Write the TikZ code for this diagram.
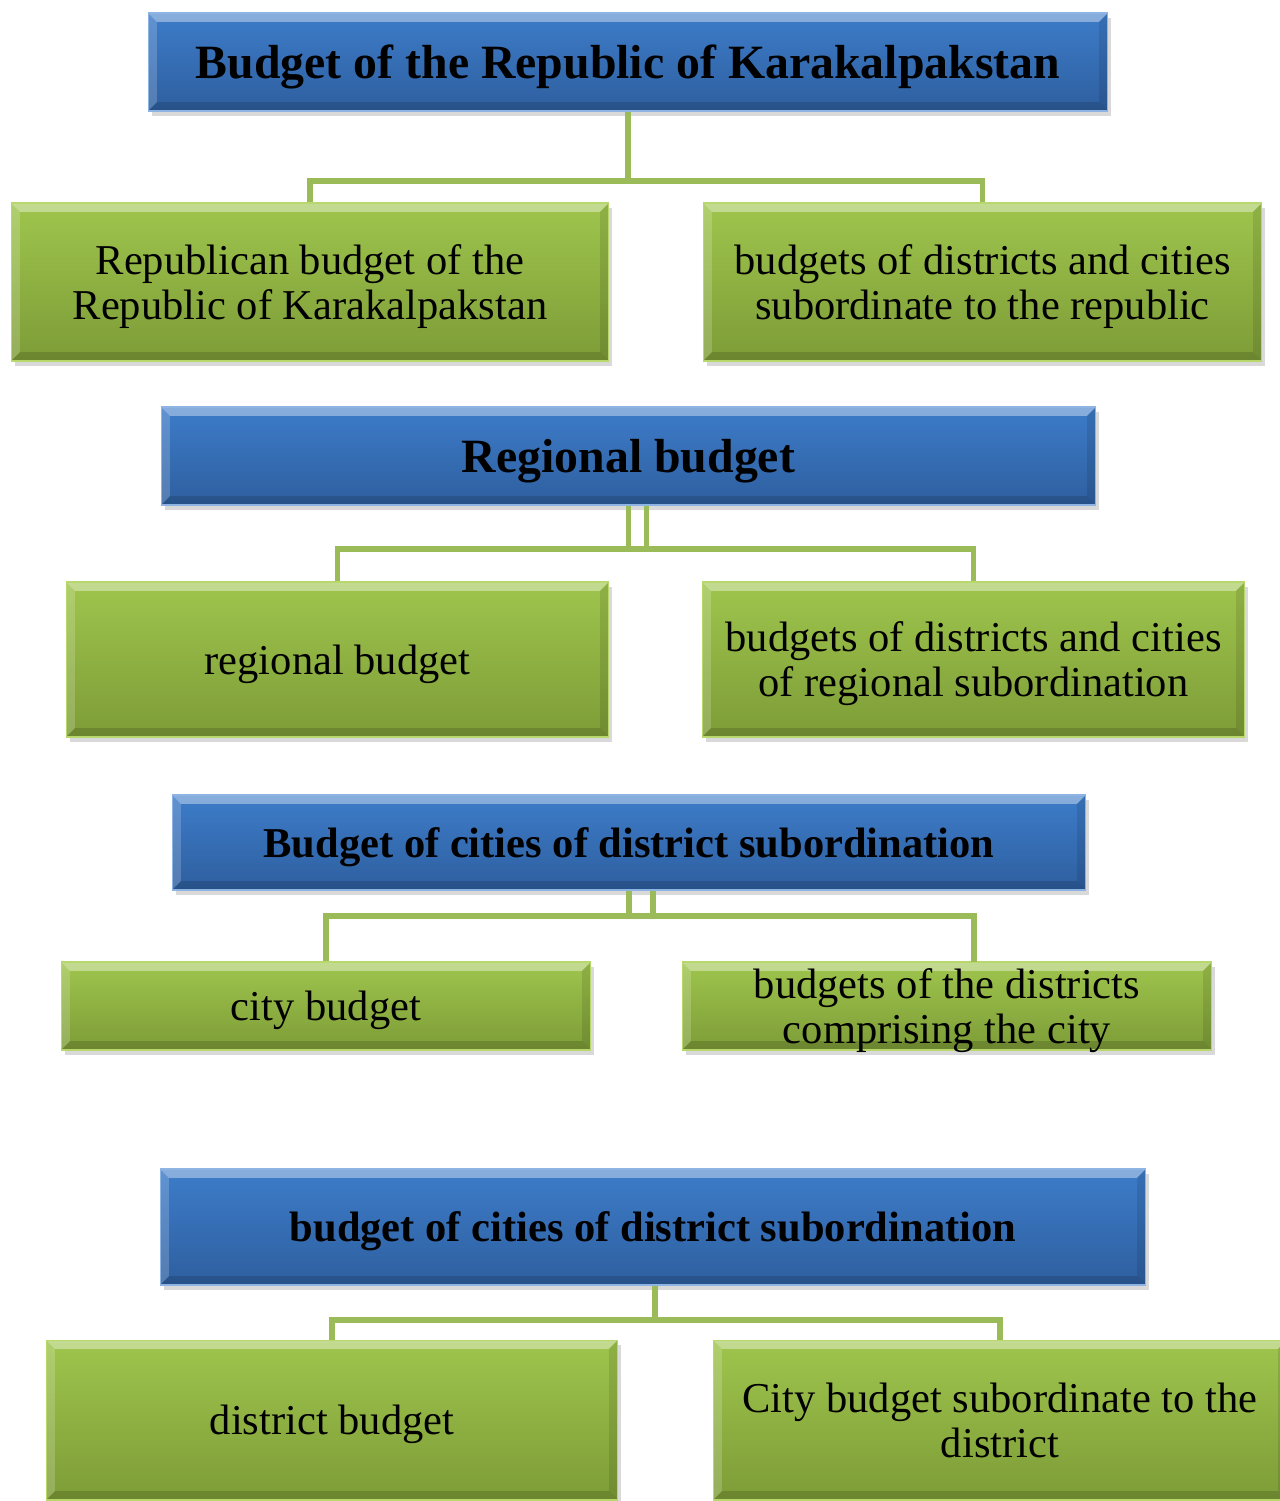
\documentclass[tikz,border=0pt]{standalone}
\usepackage{fontspec}
\setmainfont{Liberation Serif}
\usetikzlibrary{positioning,calc,shadows}

\definecolor{barblue}{HTML}{3D7CC9}
\definecolor{barbluedark}{HTML}{2E5F9F}
\definecolor{barblueedge}{HTML}{8DB4E3}
\definecolor{leafgreen}{HTML}{9FC54D}
\definecolor{leafgreendark}{HTML}{7D9C37}
\definecolor{leafgreenedge}{HTML}{B8D86E}
\definecolor{linkgreen}{HTML}{9BBB59}

\tikzset{
  bevel/.style={path picture={
    \fill[white,opacity=0.38] (path picture bounding box.north west) -- (path picture bounding box.north east)
      -- ([xshift=-5pt,yshift=-5pt]path picture bounding box.north east) -- ([xshift=5pt,yshift=-5pt]path picture bounding box.north west) -- cycle;
    \fill[white,opacity=0.18] (path picture bounding box.north west) -- ([xshift=5pt,yshift=-5pt]path picture bounding box.north west)
      -- ([xshift=5pt,yshift=5pt]path picture bounding box.south west) -- (path picture bounding box.south west) -- cycle;
    \fill[black,opacity=0.10] (path picture bounding box.north east) -- ([xshift=-5pt,yshift=-5pt]path picture bounding box.north east)
      -- ([xshift=-5pt,yshift=5pt]path picture bounding box.south east) -- (path picture bounding box.south east) -- cycle;
    \fill[black,opacity=0.14] (path picture bounding box.south west) -- (path picture bounding box.south east)
      -- ([xshift=-5pt,yshift=5pt]path picture bounding box.south east) -- ([xshift=5pt,yshift=5pt]path picture bounding box.south west) -- cycle;
  }},
}

\begin{document}
\begin{tikzpicture}[x=0.02cm, y=-0.02cm,
  head box/.style={draw=barblueedge, line width=0.6pt, top color=barblue, bottom color=barbluedark,
    drop shadow={shadow xshift=2pt, shadow yshift=-3pt, opacity=0.3}, bevel, inner sep=0pt, align=center,
    text depth=0pt, font=\fontsize{24.2}{26}\selectfont\bfseries},
  leaf box/.style={draw=leafgreenedge, line width=0.6pt, top color=leafgreen, bottom color=leafgreendark,
    drop shadow={shadow xshift=2pt, shadow yshift=-3pt, opacity=0.3}, bevel, inner sep=0pt, align=center,
    text depth=0pt, font=\fontsize{24.2}{25.6}\selectfont},
  link/.style={draw=linkgreen, line width=2.9pt}]
  \useasboundingbox (0,0) rectangle (1280,1501);
  \clip (0,0) rectangle (1280,1501);

  % Republic of Karakalpakstan
  \node[head box, minimum width=19.2cm, minimum height=1.96cm, font=\fontsize{27.2}{29}\selectfont\bfseries] (rk) at (628,62) {Budget of the Republic of Karakalpakstan};
  \node[leaf box, minimum width=11.96cm, minimum height=3.16cm] (rk own) at (310,282) {Republican budget of the\\Republic of Karakalpakstan};
  \node[leaf box, minimum width=11.18cm, minimum height=3.16cm] (rk dist) at (982.5,282) {budgets of districts and cities\\subordinate to the republic};

  \coordinate (rk join) at (628,181);
  \draw[link] (rk.south) -- (rk join);
  \draw[link] (rk own.north) |- (rk join) -| (rk dist.north);

  % regional level
  \node[head box, minimum width=18.7cm, minimum height=1.96cm, font=\fontsize{27.2}{29}\selectfont\bfseries] (reg) at (628.5,456) {Regional budget};
  \node[leaf box, minimum width=10.86cm, minimum height=3.1cm] (reg own) at (337.5,659.5) {regional budget};
  \node[leaf box, minimum width=10.86cm, minimum height=3.1cm] (reg dist) at (973.5,659.5) {budgets of districts and cities\\of regional subordination};

  \coordinate (reg join) at (637,549);
  \coordinate (reg right) at ($(reg.south)+(18,0)$);
  \draw[link] (reg.south) -- (reg.south |- reg join);
  \draw[link] (reg right) -- (reg right |- reg join);
  \draw[link] (reg own.north) |- (reg join) -| (reg dist.north);

  % cities of district subordination
  \node[head box, minimum width=18.28cm, minimum height=1.9cm] (cty) at (629,842.5) {Budget of cities of district subordination};
  \node[leaf box, minimum width=10.6cm, minimum height=1.76cm] (cty own) at (326,1006) {city budget};
  \node[leaf box, minimum width=10.6cm, minimum height=1.76cm] (cty dist) at (947,1006) {budgets of the districts\\comprising the city};

  \coordinate (cty join) at (642,916);
  \coordinate (cty right) at ($(cty.south)+(24,0)$);
  \coordinate (cty drop) at (974,962);
  \draw[link] (cty.south) -- (cty.south |- cty join);
  \draw[link] (cty right) -- (cty right |- cty join);
  \draw[link] (cty own.north) |- (cty join) -| (cty drop);

  % district level
  \node[head box, minimum width=19.72cm, minimum height=2.32cm] (dst) at (653,1227) {budget of cities of district subordination};
  \node[leaf box, minimum width=11.44cm, minimum height=3.2cm] (dst own) at (332,1420) {district budget};
  \node[leaf box, minimum width=11.48cm, minimum height=3.2cm] (dst city) at (1000,1420) {City budget subordinate to the\\district};

  \coordinate (dst join) at (655,1320);
  \draw[link] (dst.south -| dst join) -- (dst join);
  \draw[link] (dst own.north) |- (dst join) -| (dst city.north);
\end{tikzpicture}
\end{document}
